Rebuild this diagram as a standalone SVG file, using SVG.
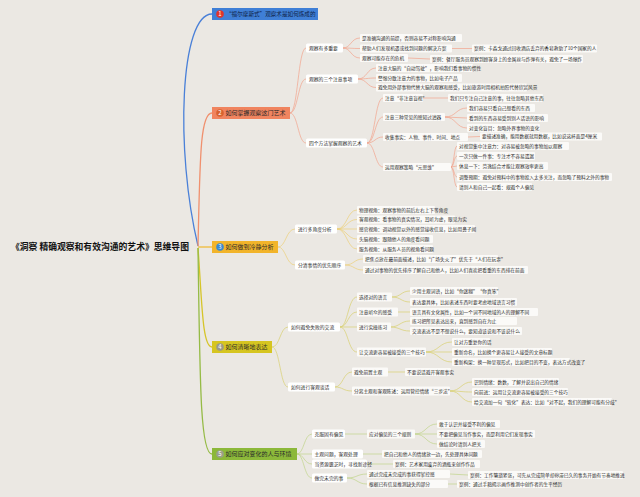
<svg xmlns="http://www.w3.org/2000/svg" width="640" height="497" viewBox="0 0 640 497">
<style>
text{font-family:"Noto Sans CJK SC","Noto Sans",sans-serif;fill:#2a2a2a}
.lf rect{fill:#fbfaf8}
.lf text{font-size:4.7px}
.sb rect{fill:#ffffff}
.sb text{font-size:4.8px}
.br text{font-size:6px}
.num{font-size:4.5px;fill:#fff;text-anchor:middle}
.c{fill:none;stroke-width:0.7}
.c2{stroke:#f2a48c}.c3{stroke:#ecd07a}.c4{stroke:#d9d070}.c5{stroke:#c0d48a}
.m{fill:none;stroke-width:1.3}
</style>
<rect width="640" height="497" fill="#ebe8e3"/>
<g id="connectors">
<path class="m" stroke="#4a80d8" d="M198 246 C175 150 180 14 212 14"/>
<path class="m" stroke="#f0906e" d="M198 246 C200 160 200 113 212 113"/>
<path class="m" stroke="#f0bb3a" d="M198 247 C205 247 205 247 212 247"/>
<path class="m" stroke="#d6c52a" d="M198 248 C202 300 202 347 212 347"/>
<path class="m" stroke="#95bb45" d="M198 248 C200 380 200 454 212 454"/>
<g class="c c2">
<path d="M290 113 C298 113 298 48 306 48"/><path d="M290 113 C298 113 298 79 306 79"/><path d="M290 113 C298 113 298 143 306 143"/>
<path d="M343 48 C351 48 351 38 360 38"/><path d="M343 48 C351 48 351 48.5 360 48.5"/><path d="M343 48 C351 48 351 58 360 58"/>
<path d="M452 48.5 L472 48.5"/><path d="M408 58 L430 59"/>
<path d="M358 79 C367 79 367 68 376 68"/><path d="M358 79 C367 79 367 78 376 78"/><path d="M358 79 C367 79 367 87.5 376 87.5"/>
<path d="M367 143 C375 143 375 98 383 98"/><path d="M367 143 C375 143 375 117 383 117"/><path d="M367 143 C375 143 375 137 383 137"/><path d="M367 143 C375 143 375 167 383 167"/>
<path d="M423 98 L448 98"/>
<path d="M445 117 C456 117 456 108 467 108"/><path d="M445 117 L467 118"/><path d="M445 117 C456 117 456 128 467 128"/>
<path d="M468 137 L480 136.5"/>
<path d="M451 167 C454 167 454 146 457 146"/><path d="M451 167 C454 167 454 156 457 156"/><path d="M451 167 L457 166"/><path d="M451 167 C454 167 454 177 457 177"/><path d="M451 167 C454 167 454 187 457 187"/>
</g>
<g class="c c3">
<path d="M278 247 C286 247 286 229 295 229"/><path d="M278 247 C286 247 286 265 295 265"/>
<path d="M337 229 C347 229 347 210 357 210"/><path d="M337 229 C347 229 347 219.5 357 219.5"/><path d="M337 229 L357 229"/><path d="M337 229 C347 229 347 239 357 239"/><path d="M337 229 C347 229 347 249 357 249"/>
<path d="M345 265 C354 265 354 259 363 259"/><path d="M345 265 C354 265 354 270 363 270"/>
</g>
<g class="c c4">
<path d="M272 347 C280 347 280 327 288 327"/><path d="M272 347 C280 347 280 387 288 387"/>
<path d="M340 327 C348 327 348 297 357 297"/><path d="M340 327 C348 327 348 312 357 312"/><path d="M340 327 L357 327"/><path d="M340 327 C348 327 348 352 357 352"/>
<path d="M392 297 C401 297 401 291 410 291"/><path d="M392 297 C401 297 401 302 410 302"/>
<path d="M398 312 L410 312"/>
<path d="M390 327 C400 327 400 321 410 321"/><path d="M390 327 C400 327 400 331 410 331"/>
<path d="M426 352 C439 352 439 342 452 342"/><path d="M426 352 L452 352"/><path d="M426 352 C439 352 439 362 452 362"/>
<path d="M335 387 C343 387 343 372 352 372"/><path d="M335 387 C343 387 343 391 352 391"/>
<path d="M388 372 L405 372"/>
<path d="M450 391 C461 391 461 382 472 382"/><path d="M450 391 C461 391 461 392 472 392"/><path d="M450 391 C461 391 461 402 472 402"/>
</g>
<g class="c c5">
<path d="M297 454 C304 454 304 434 312 434"/><path d="M297 454 L312 454"/><path d="M297 454 C304 454 304 464 312 464"/><path d="M297 454 C304 454 304 478 312 478"/>
<path d="M345 434 L367 434"/>
<path d="M415 434 C426 434 426 424 437 424"/><path d="M415 434 L437 434"/><path d="M415 434 C426 434 426 444 437 444"/>
<path d="M363 454 L382 454"/><path d="M367 464 L393 464"/>
<path d="M347 478 C357 478 357 474 367 474"/><path d="M347 478 C357 478 357 484 367 484"/>
<path d="M450 474 L468 475"/><path d="M448 484 L457 484"/>
</g>
</g>
<g id="root"><text x="11" y="250" style="font-size:8.8px;font-weight:bold;fill:#111">《洞察 精确观察和有效沟通的艺术》思维导图</text></g>
<g id="b1" class="br"><rect x="212" y="8" width="106" height="12" fill="#3f7fd6"/><circle cx="220" cy="14" r="3.8" fill="#e0352c"/><text class="num" x="220" y="15.6">1</text><text x="226" y="16.2" style="fill:#0f1f48;font-size:5.6px">“福尔摩斯式”观察术是如何炼成的</text></g>
<g id="b2" class="br"><rect x="212" y="107" width="78" height="12" fill="#f0845f"/><circle cx="220" cy="113" r="3.8" fill="#d8622e"/><text class="num" x="220" y="114.6">2</text><text x="225.5" y="115.2">如何掌握观察这门艺术</text></g>
<g id="b3" class="br"><rect x="212" y="241" width="66" height="12" fill="#f2b42a"/><circle cx="220" cy="247" r="3.8" fill="#3a8ad0"/><text class="num" x="220" y="248.6">3</text><text x="225.5" y="249.2">如何做到冷静分析</text></g>
<g id="b4" class="br"><rect x="212" y="341" width="60" height="12" fill="#d6c520"/><circle cx="220" cy="347" r="3.8" fill="#9a9a8a"/><text class="num" x="220" y="348.6">4</text><text x="225.5" y="349.2">如何清晰地表达</text></g>
<g id="b5" class="br"><rect x="212" y="448" width="85" height="12" fill="#8cb83a"/><circle cx="220" cy="454" r="3.8" fill="#9aa08a"/><text class="num" x="220" y="455.6">5</text><text x="225.5" y="456.2">如何应对变化的人与环境</text></g>
<g id="s21" class="sb"><rect x="306" y="43.5" width="37" height="9" rx="1.5"/><text x="309" y="49.7">观察有多重要</text></g>
<g id="s22" class="sb"><rect x="306" y="74.5" width="52" height="9" rx="1.5"/><text x="309" y="80.7">观察的三个注意事项</text></g>
<g id="s23" class="sb"><rect x="306" y="138.5" width="61" height="9" rx="1.5"/><text x="309" y="144.7">四个方法掌握观察的艺术</text></g>
<g id="s31" class="sb"><rect x="295" y="224.5" width="42" height="9" rx="1.5"/><text x="298" y="230.7">进行多角度分析</text></g>
<g id="s32" class="sb"><rect x="295" y="260.5" width="50" height="9" rx="1.5"/><text x="298" y="266.7">分清事情的优先顺序</text></g>
<g id="s41" class="sb"><rect x="288" y="322.5" width="52" height="9" rx="1.5"/><text x="291" y="328.7">如何避免失败的交流</text></g>
<g id="s42" class="sb"><rect x="288" y="382.5" width="47" height="9" rx="1.5"/><text x="291" y="388.7">如何进行客观谈话</text></g>
<g id="s51" class="sb"><rect x="312" y="429.5" width="33" height="9" rx="1.5"/><text x="314.5" y="435.7">克服固有偏见</text></g>
<g id="s52" class="sb"><rect x="312" y="449.5" width="51" height="9" rx="1.5"/><text x="314.5" y="455.7">主观问题，客观处理</text></g>
<g id="s53" class="sb"><rect x="312" y="459.5" width="55" height="9" rx="1.5"/><text x="314.5" y="465.7">当资源匮乏时，寻找新途径</text></g>
<g id="s54" class="sb"><rect x="312" y="473.5" width="35" height="9" rx="1.5"/><text x="314.5" y="479.7">做完未完的事</text></g>
<g id="l1" class="lf"><rect x="360" y="34" width="102" height="8" rx="1"/><text x="362" y="39.6">是准确沟通的前提，否则容易不对称影响沟通</text></g>
<g id="l2" class="lf"><rect x="360" y="44.5" width="92" height="8" rx="1"/><text x="362" y="50.1">帮助人们发现机遇或找到问题的解决方案</text></g>
<g id="l3" class="lf"><rect x="472" y="44.5" width="125" height="8" rx="1"/><text x="474" y="50.1">案例：卡森戈通过回收酒店丢弃的香皂救助了10个国家的人</text></g>
<g id="l4" class="lf"><rect x="360" y="54" width="48" height="8" rx="1"/><text x="362" y="59.6">观察可能存在的危机</text></g>
<g id="l5" class="lf"><rect x="430" y="55" width="153" height="8" rx="1"/><text x="432" y="60.6">案例：餐厅服务员观察到顾客身上的金属丝与炸弹有关，避免了一场爆炸</text></g>
<g id="l6" class="lf"><rect x="376" y="64" width="97" height="8" rx="1"/><text x="378" y="69.6">注意大脑的“自动驾驶”，影响我们看事物的惯性</text></g>
<g id="l7" class="lf"><rect x="376" y="74" width="86" height="8" rx="1"/><text x="378" y="79.6">警惕分散注意力的事物，比如电子产品</text></g>
<g id="l8" class="lf"><rect x="376" y="83.5" width="151" height="8" rx="1"/><text x="378" y="89.1">避免用外部事物代替大脑的观察和感受，比如旅游时用相机拍照代替欣赏风景</text></g>
<g id="l9" class="lf"><rect x="383" y="94" width="40" height="8" rx="1"/><text x="385" y="99.6">注意“非注意盲视”</text></g>
<g id="l10" class="lf"><rect x="448" y="94" width="95" height="8" rx="1"/><text x="450" y="99.6">我们只专注自己注意的事，往往忽略其他东西</text></g>
<g id="l11" class="lf"><rect x="383" y="113" width="62" height="8" rx="1"/><text x="385" y="118.6">注意三种常见的感知过滤器</text></g>
<g id="l12" class="lf"><rect x="467" y="104" width="68" height="8" rx="1"/><text x="469" y="109.6">我们容易只看自己想看的东西</text></g>
<g id="l13" class="lf"><rect x="467" y="114" width="81" height="8" rx="1"/><text x="469" y="119.6">看到的东西容易受到别人话语的影响</text></g>
<g id="l14" class="lf"><rect x="467" y="124" width="73" height="8" rx="1"/><text x="469" y="129.6">对变化盲目：忽略外界事物的变化</text></g>
<g id="l15" class="lf"><rect x="383" y="133" width="85" height="8" rx="1"/><text x="385" y="138.6">收集事实：人物、事件、时间、地点</text></g>
<g id="l16" class="lf"><rect x="480" y="132.5" width="122" height="8" rx="1"/><text x="482" y="138.1">要描述准确，能用数据就用数据，比如说这杯面是4厘米</text></g>
<g id="l17" class="lf"><rect x="383" y="163" width="68" height="8" rx="1"/><text x="385" y="168.6">运用观察策略“元思维”</text></g>
<g id="l18" class="lf"><rect x="457" y="142" width="112" height="8" rx="1"/><text x="459" y="147.6">对视觉集中注意力：对容易被忽略的事物加以观察</text></g>
<g id="l19" class="lf"><rect x="457" y="152" width="78" height="8" rx="1"/><text x="459" y="157.6">一次只做一件事：专注才不容易遗漏</text></g>
<g id="l20" class="lf"><rect x="457" y="162" width="91" height="8" rx="1"/><text x="459" y="167.6">休息一下：劳逸结合才能让观察效率更高</text></g>
<g id="l21" class="lf"><rect x="457" y="173" width="155" height="8" rx="1"/><text x="459" y="178.6">调整预期：避免对预料中的事物投入太多关注，而忽略了预料之外的事物</text></g>
<g id="l22" class="lf"><rect x="457" y="183" width="75" height="8" rx="1"/><text x="459" y="188.6">请别人和自己一起看：规避个人偏见</text></g>
<g id="l23" class="lf"><rect x="357" y="206" width="78" height="8" rx="1"/><text x="359" y="211.6">物理视角：观察事物的前后左右上下等角度</text></g>
<g id="l24" class="lf"><rect x="357" y="215.5" width="98" height="8" rx="1"/><text x="359" y="221.1">客观视角：看事物的真实情况，耳听为虚，眼见为实</text></g>
<g id="l25" class="lf"><rect x="357" y="225" width="118" height="8" rx="1"/><text x="359" y="230.6">感官视角：调动视觉以外的感觉接收信息，比如用鼻子闻</text></g>
<g id="l26" class="lf"><rect x="357" y="235" width="76" height="8" rx="1"/><text x="359" y="240.6">头脑视角：跟随他人的角度看问题</text></g>
<g id="l27" class="lf"><rect x="357" y="245" width="76" height="8" rx="1"/><text x="359" y="250.6">服务视角：从服务人员的视角看问题</text></g>
<g id="l28" class="lf"><rect x="363" y="255" width="135" height="8" rx="1"/><text x="365" y="260.6">把焦点放在最前面描述，比如“广场失火了”优先于“人们在玩耍”</text></g>
<g id="l29" class="lf"><rect x="363" y="266" width="165" height="8" rx="1"/><text x="365" y="271.6">通过对事物的优先排序了解自己和他人，比如人们喜欢把看重的东西排在前面</text></g>
<g id="l30" class="lf"><rect x="357" y="292.5" width="35" height="9" rx="1"/><text x="359" y="298.6">选择对的语言</text></g>
<g id="l31" class="lf"><rect x="357" y="307.5" width="41" height="9" rx="1"/><text x="359" y="313.6">注意听众的感受</text></g>
<g id="l32" class="lf"><rect x="357" y="322.5" width="34" height="9" rx="1"/><text x="359" y="328.6">进行实操练习</text></g>
<g id="l33" class="lf"><rect x="357" y="347.5" width="69" height="9" rx="1"/><text x="359" y="353.6">让交流更容易被接受的三个技巧</text></g>
<g id="l34" class="lf"><rect x="410" y="287" width="88" height="8" rx="1"/><text x="412" y="292.6">少用主观词语，比如“你迷糊”“你真笨”</text></g>
<g id="l35" class="lf"><rect x="410" y="298" width="107" height="8" rx="1"/><text x="412" y="303.6">表达要具体，比如表述东西时要考虑地域语言习惯</text></g>
<g id="l36" class="lf"><rect x="410" y="308" width="128" height="8" rx="1"/><text x="412" y="313.6">语言具有文化属性，比如一个词不同地域的人的理解不同</text></g>
<g id="l37" class="lf"><rect x="410" y="317" width="107" height="8" rx="1"/><text x="412" y="322.6">练习把所见表达出来，直到感到自在为止</text></g>
<g id="l38" class="lf"><rect x="410" y="327" width="112" height="8" rx="1"/><text x="412" y="332.6">交流表达不是不想说什么，要知道该说和不该说什么</text></g>
<g id="l39" class="lf"><rect x="452" y="338" width="38" height="8" rx="1"/><text x="454" y="343.6">让对方重复你的话</text></g>
<g id="l40" class="lf"><rect x="452" y="348" width="100" height="8" rx="1"/><text x="454" y="353.6">重新命名，比如换个更容易让人接受的文章标题</text></g>
<g id="l41" class="lf"><rect x="452" y="358" width="118" height="8" rx="1"/><text x="454" y="363.6">重新构架：换一种呈现形式，比如把目的不变，表达方式改变了</text></g>
<g id="l42" class="lf"><rect x="352" y="367.5" width="36" height="9" rx="1"/><text x="354" y="373.6">避免前置主观</text></g>
<g id="l43" class="lf"><rect x="405" y="368" width="46" height="8" rx="1"/><text x="407" y="373.6">不要说话避开客观事实</text></g>
<g id="l44" class="lf"><rect x="352" y="386.5" width="98" height="9" rx="1"/><text x="354" y="392.6">分离主观和客观陈述：运用管控情绪“三步法”</text></g>
<g id="l45" class="lf"><rect x="472" y="378" width="87" height="8" rx="1"/><text x="474" y="383.6">识别情绪：数数，了解并说出自己的情绪</text></g>
<g id="l46" class="lf"><rect x="472" y="388" width="96" height="8" rx="1"/><text x="474" y="393.6">向前进：运用让交流更容易被接受的三个技巧</text></g>
<g id="l47" class="lf"><rect x="472" y="398" width="140" height="8" rx="1"/><text x="474" y="403.6">给交流加一句“软化”表达：比如“对不起，我们的理解可能有分歧”</text></g>
<g id="l48" class="lf"><rect x="367" y="429.5" width="48" height="9" rx="1"/><text x="369" y="435.6">应对偏见的三个规则</text></g>
<g id="l49" class="lf"><rect x="437" y="420" width="63" height="8" rx="1"/><text x="439" y="425.6">敢于认识并接受不利的偏见</text></g>
<g id="l50" class="lf"><rect x="437" y="430" width="98" height="8" rx="1"/><text x="439" y="435.6">不要把偏见当作事实，而是利用它们发现事实</text></g>
<g id="l51" class="lf"><rect x="437" y="440" width="48" height="8" rx="1"/><text x="439" y="445.6">做结论时请别人把关</text></g>
<g id="l52" class="lf"><rect x="382" y="450" width="100" height="8" rx="1"/><text x="384" y="455.6">把自己和他人的情绪放一边，先处理具体问题</text></g>
<g id="l53" class="lf"><rect x="393" y="460" width="87" height="8" rx="1"/><text x="395" y="465.6">案例：艺术家用废弃的酒瓶来创作作品</text></g>
<g id="l54" class="lf"><rect x="367" y="470" width="83" height="8" rx="1"/><text x="369" y="475.6">通过完成未完成的事获得掌控感</text></g>
<g id="l55" class="lf"><rect x="468" y="471" width="155" height="8" rx="1"/><text x="470" y="476.6">案例：工作繁琐紧张，可先从完成简单却停滞已久的事务开始有节奏地推进</text></g>
<g id="l56" class="lf"><rect x="367" y="480" width="81" height="8" rx="1"/><text x="369" y="485.6">根据已有信息推测缺失的部分</text></g>
<g id="l57" class="lf"><rect x="457" y="480" width="93" height="8" rx="1"/><text x="459" y="485.6">案例：通过手稿揭示画作推测中创作者的生平经历</text></g>
</svg>
